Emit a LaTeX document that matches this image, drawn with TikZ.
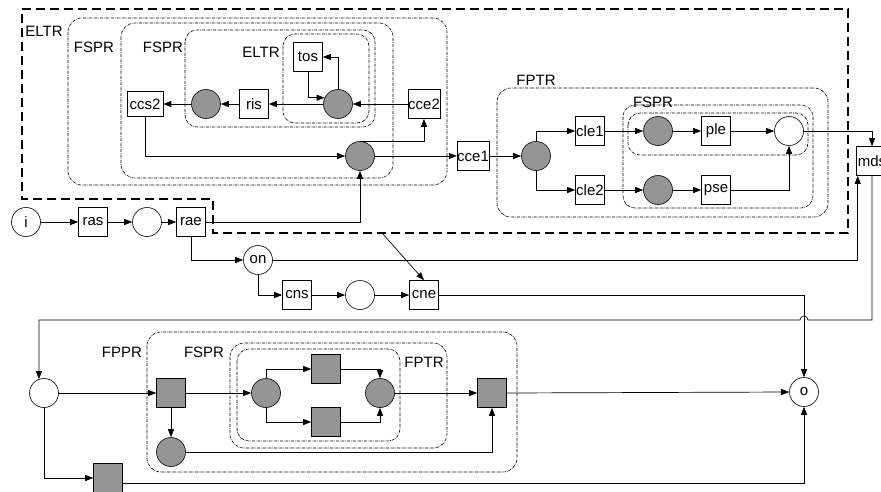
\documentclass[tikz,border=0pt]{standalone}
\usepackage{fontspec}
\setmainfont{Liberation Sans}
\usetikzlibrary{arrows.meta}

\definecolor{grayfill}{HTML}{959595}

\begin{document}
\begin{tikzpicture}[
    x=1pt, y=-1pt,
    % Transition: square box
    tr/.style={
        rectangle, draw=black, line width=0.6pt, fill=white,
        minimum width=29pt, minimum height=29pt, inner sep=0pt,
        font=\fontsize{15}{17}\selectfont
    },
    % Filled transition
    gtr/.style={tr, fill=grayfill},
    % Place: circle
    pl/.style={
        circle, draw=black, line width=0.6pt, fill=white,
        minimum size=29pt, inner sep=0pt,
        font=\fontsize{15}{17}\selectfont
    },
    % Filled place
    gpl/.style={pl, fill=grayfill},
    % Dash-dotted region
    region/.style={draw=black, line width=0.6pt, densely dashdotted, rounded corners=14pt},
    % Outer dashed region
    outer/.style={draw=black, line width=1.4pt, dash pattern=on 9pt off 5pt},
    % Region label
    lbl/.style={font=\fontsize{15}{17}\selectfont, inner sep=0pt},
    % Flow edge
    flow/.style={draw=black, line width=0.7pt, -{Triangle[length=8pt, width=6pt]}},
]
\useasboundingbox (0,0) rectangle (881,491);

% ============================================================
% REGIONS
% ============================================================
\draw[outer] (22,9) -- (848,9) -- (848,233) -- (213,233)
    -- (213,199) -- (22,199) -- cycle;
\draw[region] (68,18)   rectangle (447,185);
\draw[region] (121,23)  rectangle (393,178);
\draw[region, rounded corners=12pt] (185,30)  rectangle (375,127);
\draw[region, rounded corners=12pt] (283,34)  rectangle (369,123);
\draw[region] (497,88)  rectangle (828,217);
\draw[region, rounded corners=12pt] (623,105) rectangle (813,208);
\draw[region, rounded corners=12pt] (628,113) rectangle (808,155);
\draw[region] (147,332) rectangle (517,472);
\draw[region] (230,343) rectangle (447,448);
\draw[region, rounded corners=12pt] (237,349) rectangle (400,441);

% Labels
\node[lbl] (l-eltr1) at (44,31)   {ELTR};
\node[lbl] (l-fspr1) at (94,47)   {FSPR};
\node[lbl] (l-fspr2) at (163,47)  {FSPR};
\node[lbl] (l-eltr2) at (261,52)  {ELTR};
\node[lbl] (l-fptr1) at (536,80)  {FPTR};
\node[lbl] (l-fspr3) at (653,102) {FSPR};
\node[lbl] (l-fppr)  at (122,352) {FPPR};
\node[lbl] (l-fspr4) at (204,352) {FSPR};
\node[lbl] (l-fptr2) at (424,362) {FPTR};

% ============================================================
% TOP: loop part
% ============================================================
\node[tr]  (tos)   at (308,57)  {tos};
\node[gpl] (tc)    at (338,104) {};
\node[tr]  (ris)   at (254,104) {ris};
\node[gpl] (rc1)   at (206,104) {};
\node[tr, minimum width=36pt, minimum height=25pt] (ccs2) at (145,104) {ccs2};
\node[tr]  (cce2)  at (424,104) {cce2};
\node[gpl] (merge) at (360,156) {};
\node[tr]  (cce1)  at (473,156) {cce1};

% FPTR part
\node[gpl] (fc)    at (536,156) {};
\node[tr]  (cle1)  at (590,131) {cle1};
\node[tr]  (cle2)  at (590,190) {cle2};
\node[gpl] (pc1)   at (658,131) {};
\node[tr]  (ple)   at (716,131) {ple};
\node[pl]  (wc)    at (789,131) {};
\node[gpl] (pc2)   at (658,190) {};
\node[tr]  (pse)   at (716,190) {pse};
\node[tr, minimum width=32pt] (mds) at (872,161) {mds};

% Input chain
\node[pl]  (i)     at (26,222)  {i};
\node[tr]  (ras)   at (93,222)  {ras};
\node[pl]  (w1)    at (147,222) {};
\node[tr]  (rae)   at (191,222) {rae};
\node[pl]  (on)    at (258,260) {on};
\node[tr]  (cns)   at (297,295) {cns};
\node[pl]  (w3)    at (360,295) {};
\node[tr]  (cne)   at (424,295) {cne};
\node[pl]  (o)     at (804,392) {o};

\coordinate (dtail) at (382,233);
\coordinate (br-r)  at (808,320);

% ============================================================
% BOTTOM: parallel part
% ============================================================
\node[pl]  (w2)    at (44,393)  {};
\node[gtr] (g1)    at (171,393) {};
\node[gpl] (gc)    at (171,452) {};
\node[gpl] (sc)    at (266,393) {};
\node[gtr] (sqT)   at (326,369) {};
\node[gtr] (sqD)   at (326,422) {};
\node[gpl] (rc)    at (380,393) {};
\node[gtr] (gR)    at (492,393) {};
\node[gtr] (sqB)   at (108,478) {};

% ============================================================
% EDGES
% ============================================================
% top loop
\draw[flow] (cce2.west)  -- (tc.east);
\draw[flow] (tc.west)    -- (ris.east);
\draw[flow] (ris.west)   -- (rc1.east);
\draw[flow] (rc1.west)   -- (ccs2.east);
\draw[flow] (tc.north)   |- (tos.east);
\draw[flow] (tos.south)  |- (tc.155);
\draw[flow] (ccs2.south) |- (merge.west);
\draw[flow] (merge.north) -| (cce2.south);
\draw[flow] (merge.east) -- (cce1.west);

% FPTR
\draw[flow] (cce1.east)  -- (fc.west);
\draw[flow] (fc.north)   |- (cle1.west);
\draw[flow] (fc.south)   |- (cle2.west);
\draw[flow] (cle1)       -- (pc1);
\draw[flow] (pc1)        -- (ple);
\draw[flow] (ple)        -- (wc);
\draw[flow] (cle2)       -- (pc2);
\draw[flow] (pc2)        -- (pse);
\draw[flow] (pse.east)   -| (wc.south);
\draw[flow] (wc.east)    -| (mds.north);

% input chain
\draw[flow] (i)          -- (ras);
\draw[flow] (ras)        -- (w1);
\draw[flow] (w1)         -- (rae);
\draw[flow] (rae.east)   -| (merge.south);
\draw[flow] (rae.south)  |- (on.west);
\draw[flow] (on.south)   |- (cns.west);
\draw[flow] (cns)        -- (w3);
\draw[flow] (w3)         -- (cne);
\draw[flow] (dtail)      -- (cne.north);
\draw[flow] (cne.east)   -| (o.north);
\draw[flow] (on.east)    -| ([xshift=2pt]mds.south west);
\draw[flow] (mds.south)  |- (br-r)
    arc[start angle=0, end angle=180, radius=4pt] -| (w2.110);

% bottom
\draw[flow] (w2.east)    -- (g1.west);
\draw[flow] (g1.south)   -- (gc.north);
\draw[flow] (g1.east)    -- (sc.west);
\draw[flow] (sc.north)   |- (sqT.west);
\draw[flow] (sc.south)   |- (sqD.west);
\draw[flow] (sqT.east)   -| (rc.north);
\draw[flow] (sqD.east)   -| (rc.south);
\draw[flow] (rc.east)    -- (gR.west);
\draw[flow] (gc.east)    -| (gR.south);
\draw[flow] (gR.east)    -- (o.west);
\draw[flow] (w2.south)   |- (sqB.west);
\draw[flow] ([yshift=-5pt]sqB.east) -| (o.south);

\end{tikzpicture}
\end{document}
